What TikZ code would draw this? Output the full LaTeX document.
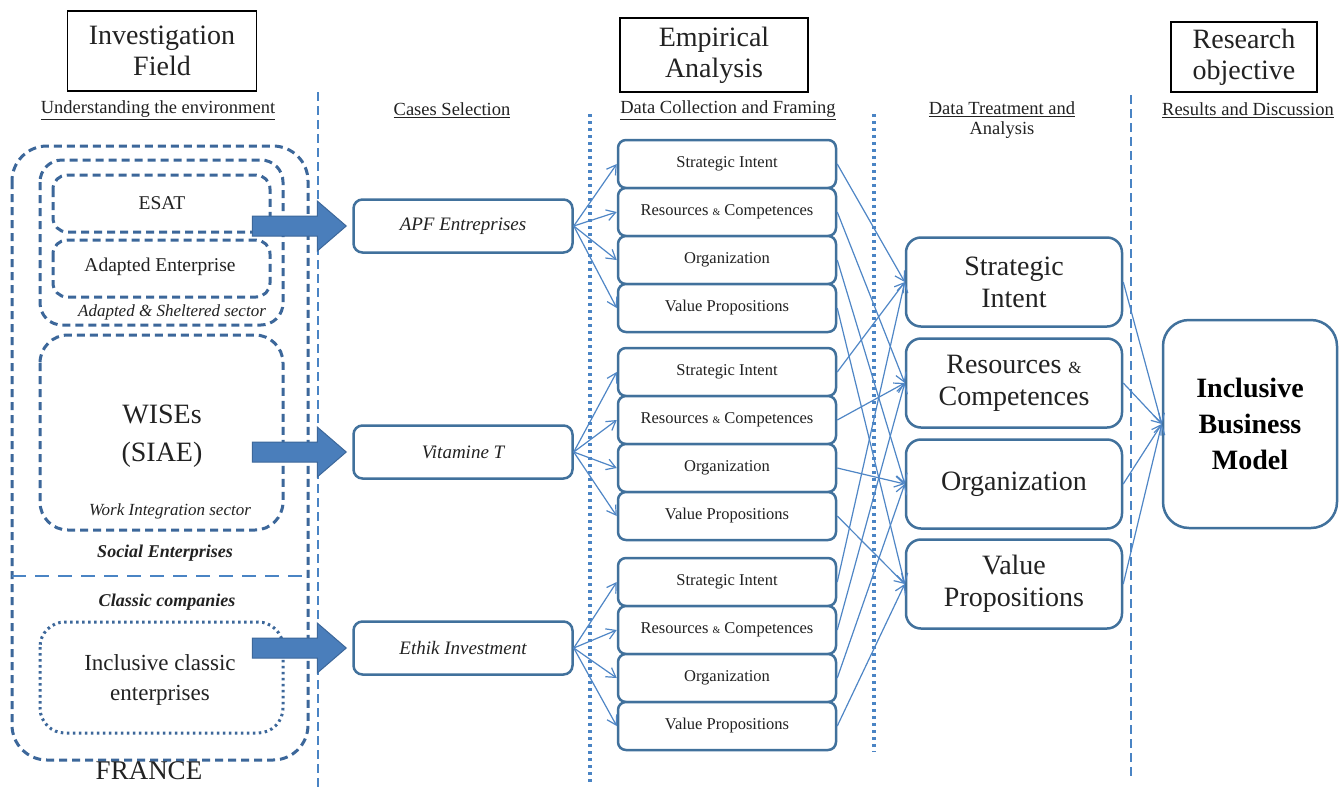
\documentclass[tikz,border=0pt]{standalone}
\usepackage{fontspec}
\setmainfont{Liberation Serif}
\usetikzlibrary{calc,arrows.meta}
\definecolor{txt}{HTML}{222222}
\definecolor{boxblue}{HTML}{41719C}
\definecolor{sectblue}{HTML}{3C679A}
\definecolor{linkblue}{HTML}{4F86C6}
\definecolor{sepblue}{HTML}{4A84C4}
\definecolor{fatfill}{HTML}{4A7EBB}
\tikzset{
  headbox/.style={draw=black, line width=1.2pt, align=center, text=txt,
    font=\fontsize{28}{31}\selectfont, inner sep=0pt},
  subhead/.style={text=txt, align=center, inner sep=0pt,
    font=\fontsize{18.5}{20}\selectfont},
  sector/.style={draw=sectblue, line width=3pt, dash pattern=on 8pt off 5pt},
  dotsector/.style={draw=sectblue, line width=3pt, dash pattern=on 2.5pt off 3.5pt},
  sep/.style={draw=sepblue, line width=2.2pt, dash pattern=on 9pt off 5pt},
  dotsep/.style={draw=sepblue, line width=3.5pt, dash pattern=on 3pt off 4pt},
  split/.style={draw=sepblue, line width=2.6pt, dash pattern=on 14pt off 9pt},
  label/.style={text=txt, align=center, inner sep=0pt},
  casebox/.style={draw=boxblue, fill=white, line width=2.5pt, rounded corners=9pt,
    minimum width=219pt, minimum height=53pt, text=txt,
    font=\itshape\fontsize{19}{21}\selectfont},
  databox/.style={draw=boxblue, fill=white, line width=2.5pt, rounded corners=8pt,
    minimum width=218pt, minimum height=48pt, text=txt,
    font=\fontsize{16.5}{18}\selectfont},
  themebox/.style={draw=boxblue, fill=white, line width=2.5pt, rounded corners=15pt,
    minimum width=216pt, minimum height=89pt, align=center, text=txt,
    font=\fontsize{28}{32}\selectfont},
  goalbox/.style={draw=boxblue, fill=white, line width=2.5pt, rounded corners=26pt,
    minimum width=174pt, minimum height=208pt, align=center, text=black,
    font=\bfseries\fontsize{28}{36}\selectfont},
  link/.style={draw=linkblue, line width=1.2pt, -{Straight Barb[length=9pt,width=11pt]}},
  fatarrow/.style={fill=fatfill, draw=sectblue, line width=1pt, line join=miter}
}
\begin{document}
\begin{tikzpicture}[x=1pt, y=-1pt]
  \useasboundingbox (0,0) rectangle (1342,788);
  \fill[white] (0,0) rectangle (1342,788);

  % column headers
  \node[headbox, minimum width=189pt, minimum height=80pt] (invest) at (162,51) {Investigation\\Field};
  \node[headbox, minimum width=188pt, minimum height=74pt] (empir) at (714,55) {Empirical\\Analysis};
  \node[headbox, minimum width=146pt, minimum height=70pt] (resobj) at (1244,57) {Research\\objective};

  \node[subhead] (envhead) at (158,110) {\underline{Understanding the environment}};
  \node[subhead] (casehead) at (452,110) {\underline{Cases Selection}};
  \node[subhead] (datahead) at (728,110) {\underline{Data Collection and Framing}};
  \node[subhead] (treathead) at (1002,120) {\underline{Data Treatment and}\\Analysis};
  \node[subhead] (reshead) at (1248,110) {\underline{Results and Discussion}};

  % column separators
  \draw[sep] (318,92) -- (318,788);
  \draw[dotsep] (590,114) -- (590,782);
  \draw[dotsep] (874,114) -- (874,752);
  \draw[sep] (1131,95) -- (1131,780);

  % investigation field
  \draw[sector, rounded corners=35pt] (12,146) rectangle (308,760);
  \draw[sector, rounded corners=22pt] (40,160) rectangle (283,325);
  \draw[sector, rounded corners=14pt] (53,175) rectangle (270,232);
  \draw[sector, rounded corners=14pt] (53,240) rectangle (270,297);
  \draw[sector, rounded corners=28pt] (40,335) rectangle (283,530);
  \draw[dotsector, rounded corners=25pt] (40,622) rectangle (283,733);
  \draw[split] (12,576) -- (302,576);

  \node[label, font=\fontsize{19.5}{21}\selectfont] (esat) at (162,203) {ESAT};
  \node[label, font=\fontsize{19.5}{21}\selectfont] (adapted) at (160,267) {Adapted Enterprise};
  \node[label, font=\itshape\fontsize{17}{19}\selectfont] (sheltered) at (172,312) {Adapted \& Sheltered sector};
  \node[label, font=\fontsize{28}{38}\selectfont] (wises) at (162,436) {WISEs\\(SIAE)};
  \node[label, font=\itshape\fontsize{17}{19}\selectfont] (wis) at (170,511) {Work Integration sector};
  \node[label, font=\bfseries\itshape\fontsize{18}{20}\selectfont] (social) at (165,553) {Social Enterprises};
  \node[label, font=\bfseries\itshape\fontsize{18}{20}\selectfont] (classic) at (167,602) {Classic companies};
  \node[label, font=\fontsize{23}{30}\selectfont] (inclusive) at (160,680) {Inclusive classic\\enterprises};
  \node[label, font=\fontsize{27}{29}\selectfont] (france) at (149,771) {FRANCE};

  % cases
  \node[casebox] (apf) at (463,226) {APF Entreprises};
  \node[casebox] (vit) at (463,452) {Vitamine T};
  \node[casebox] (eth) at (463,648) {Ethik Investment};

  \foreach \c in {apf,vit,eth}
    \draw[fatarrow] ($(\c.west)+(-100,-10)$) -- ++(65,0) -- ++(0,-15) -- ++(29,25)
      -- ++(-29,25) -- ++(0,-15) -- ++(-65,0) -- cycle;

  % data collection
  \node[databox] (asi) at (727,164) {Strategic Intent};
  \node[databox] (arc) at (727,212) {Resources {\fontsize{10}{10}\selectfont\&} Competences};
  \node[databox] (aor) at (727,260) {Organization};
  \node[databox] (avp) at (727,308) {Value Propositions};

  \node[databox] (bsi) at (727,372) {Strategic Intent};
  \node[databox] (brc) at (727,420) {Resources {\fontsize{10}{10}\selectfont\&} Competences};
  \node[databox] (bor) at (727,468) {Organization};
  \node[databox] (bvp) at (727,516) {Value Propositions};

  \node[databox] (csi) at (727,582) {Strategic Intent};
  \node[databox] (crc) at (727,630) {Resources {\fontsize{10}{10}\selectfont\&} Competences};
  \node[databox] (cor) at (727,678) {Organization};
  \node[databox] (cvp) at (727,726) {Value Propositions};

  % data treatment
  \node[themebox] (tsi) at (1014,282) {Strategic\\Intent};
  \node[themebox] (trc) at (1014,383) {Resources {\fontsize{17}{17}\selectfont\&}\\Competences};
  \node[themebox] (tor) at (1014,484) {Organization};
  \node[themebox] (tvp) at (1014,584) {Value\\Propositions};

  \node[goalbox] (ibm) at (1250,424) {Inclusive\\Business\\Model};

  % links
  \foreach \c/\g in {apf/a,vit/b,eth/c}
    \foreach \k in {si,rc,or,vp}
      \draw[link] (\c.east) -- (\g\k.west);
  \foreach \g in {a,b,c}
    \foreach \k in {si,rc,or,vp}
      \draw[link] (\g\k.east) -- (t\k.west);
  \foreach \k in {si,rc,or,vp}
    \draw[link] (t\k.east) -- (ibm.west);
\end{tikzpicture}
\end{document}
